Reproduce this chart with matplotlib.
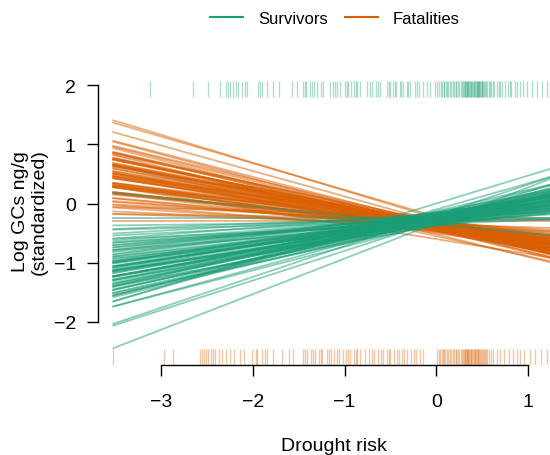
import matplotlib
matplotlib.use("Agg")
import matplotlib.pyplot as plt
import numpy as np
from matplotlib.lines import Line2D

plt.rcParams['font.family'] = ['Liberation Sans', 'DejaVu Sans']

# posterior draws: intercept (at drought risk 0) and slope per line
surv_slope = [0.04, 0.06, 0.07, 0.08, 0.09, 0.10, 0.11, 0.12, 0.12, 0.13,
              0.14, 0.14, 0.15, 0.16, 0.16, 0.17, 0.17, 0.18, 0.18, 0.19,
              0.19, 0.20, 0.20, 0.21, 0.21, 0.22, 0.22, 0.22, 0.23, 0.23,
              0.24, 0.24, 0.24, 0.25, 0.25, 0.25, 0.26, 0.26, 0.26, 0.27,
              0.27, 0.27, 0.28, 0.28, 0.28, 0.29, 0.29, 0.30, 0.30, 0.31,
              0.31, 0.32, 0.32, 0.33, 0.33, 0.34, 0.34, 0.35, 0.36, 0.36,
              0.37, 0.38, 0.39, 0.40, 0.42, 0.44, 0.47, 0.50, 0.52, 0.60,
              -0.15, 0.00, 0.02, 0.11, 0.15, 0.19, 0.23, 0.27, 0.30, 0.35]
surv_icpt = [-0.30, -0.22, -0.35, -0.26, -0.19, -0.31, -0.24, -0.28, -0.17, -0.33,
             -0.25, -0.21, -0.29, -0.36, -0.23, -0.18, -0.30, -0.26, -0.34, -0.20,
             -0.27, -0.15, -0.31, -0.24, -0.38, -0.22, -0.28, -0.19, -0.33, -0.25,
             -0.16, -0.29, -0.23, -0.35, -0.20, -0.27, -0.31, -0.18, -0.26, -0.22,
             -0.34, -0.28, -0.14, -0.24, -0.30, -0.21, -0.37, -0.25, -0.19, -0.32,
             -0.27, -0.23, -0.16, -0.29, -0.35, -0.20, -0.26, -0.31, -0.13, -0.24,
             -0.28, -0.22, -0.18, -0.33, -0.26, -0.10, 0.00, -0.30, -0.20, -0.33,
             -0.35, -0.24, -0.30, -0.27, -0.21, -0.32, -0.25, -0.19, -0.28, -0.23]

fat_slope = [-0.07, -0.09, -0.10, -0.11, -0.12, -0.13, -0.14, -0.15, -0.15, -0.16,
             -0.17, -0.17, -0.18, -0.18, -0.19, -0.19, -0.20, -0.20, -0.21, -0.21,
             -0.22, -0.22, -0.23, -0.23, -0.24, -0.24, -0.25, -0.25, -0.26, -0.26,
             -0.27, -0.27, -0.28, -0.28, -0.29, -0.29, -0.30, -0.30, -0.31, -0.31,
             -0.32, -0.32, -0.33, -0.33, -0.34, -0.35, -0.35, -0.36, -0.37, -0.38,
             -0.39, -0.40, -0.41, -0.43, -0.45, -0.47, -0.02, -0.04, -0.00, -0.05,
             -0.16, -0.20, -0.24, -0.28, -0.32, -0.36, -0.19, -0.23, -0.27, -0.31,
             -0.12, -0.26, -0.34, -0.21, -0.29, -0.18, -0.25, -0.30, -0.22, -0.38]
fat_icpt = [-0.38, -0.33, -0.42, -0.36, -0.45, -0.31, -0.40, -0.35, -0.44, -0.37,
            -0.30, -0.41, -0.34, -0.47, -0.39, -0.32, -0.43, -0.36, -0.28, -0.40,
            -0.35, -0.46, -0.38, -0.31, -0.42, -0.37, -0.33, -0.44, -0.39, -0.29,
            -0.41, -0.36, -0.48, -0.34, -0.38, -0.43, -0.32, -0.40, -0.35, -0.45,
            -0.37, -0.30, -0.42, -0.39, -0.34, -0.46, -0.36, -0.41, -0.33, -0.38,
            -0.44, -0.35, -0.40, -0.31, -0.22, -0.25, -0.25, -0.20, -0.30, -0.35,
            -0.39, -0.43, -0.34, -0.47, -0.37, -0.41, -0.36, -0.50, -0.33, -0.42,
            -0.38, -0.45, -0.55, -0.40, -0.35, -0.44, -0.60, -0.37, -0.32, -0.52]

# observed drought risk (rugs)
surv_risk = [-3.12, -2.65, -2.49, -2.36, -2.29, -2.27, -2.25, -2.21, -2.18, -2.16,
             -2.12, -2.09, -2.06, -1.94, -1.92, -1.90, -1.84, -1.78, -1.71, -1.57,
             -1.52, -1.45, -1.43, -1.42, -1.38, -1.35, -1.33, -1.30, -1.26, -1.23,
             -1.16, -1.12, -1.10, -1.08, -1.05, -0.99, -0.97, -0.96, -0.93, -0.90,
             -0.88, -0.86, -0.83, -0.75, -0.72, -0.70, -0.66, -0.64, -0.61, -0.54,
             -0.52, -0.50, -0.47, -0.45, -0.44, -0.40, -0.38, -0.36, -0.32, -0.31,
             -0.29, -0.23, -0.21, -0.19, -0.14, -0.10, -0.07, -0.01, 0.01, 0.03,
             0.05, 0.06, 0.08, 0.09, 0.11, 0.12, 0.13, 0.15, 0.16, 0.18,
             0.19, 0.21, 0.22, 0.24, 0.25, 0.27, 0.28, 0.29, 0.30, 0.31,
             0.31, 0.32, 0.33, 0.34, 0.35, 0.35, 0.36, 0.37, 0.38, 0.38,
             0.39, 0.40, 0.41, 0.41, 0.42, 0.43, 0.44, 0.44, 0.45, 0.46,
             0.47, 0.47, 0.48, 0.49, 0.50, 0.50, 0.51, 0.52, 0.53, 0.54,
             0.55, 0.57, 0.59, 0.60, 0.62, 0.63, 0.66, 0.68, 0.70, 0.72,
             0.75, 0.78, 0.80, 0.82, 0.86, 0.88, 0.91, 0.95, 0.99, 1.04,
             1.10, 1.15, 1.21]
fat_risk = [-3.52, -2.97, -2.87, -2.57, -2.55, -2.53, -2.51, -2.49, -2.45, -2.43,
            -2.41, -2.37, -2.33, -2.29, -2.25, -2.20, -2.14, -2.10, -2.01, -1.97,
            -1.95, -1.90, -1.87, -1.85, -1.78, -1.68, -1.60, -1.56, -1.45, -1.43,
            -1.41, -1.37, -1.34, -1.32, -1.28, -1.26, -1.24, -1.19, -1.17, -1.15,
            -1.11, -1.08, -1.06, -1.02, -0.98, -0.96, -0.94, -0.90, -0.88, -0.86,
            -0.83, -0.78, -0.73, -0.70, -0.68, -0.63, -0.60, -0.58, -0.54, -0.52,
            -0.50, -0.46, -0.43, -0.41, -0.37, -0.35, -0.32, -0.27, -0.24, -0.22,
            -0.18, -0.14, 0.01, 0.03, 0.04, 0.06, 0.07, 0.09, 0.10, 0.12,
            0.13, 0.15, 0.16, 0.18, 0.19, 0.21, 0.22, 0.24, 0.25, 0.27,
            0.28, 0.29, 0.30, 0.31, 0.31, 0.32, 0.33, 0.34, 0.35, 0.35,
            0.36, 0.37, 0.38, 0.38, 0.39, 0.40, 0.41, 0.42, 0.42, 0.43,
            0.44, 0.45, 0.46, 0.47, 0.48, 0.49, 0.50, 0.51, 0.52, 0.53,
            0.54, 0.55, 0.58, 0.60, 0.62, 0.66, 0.70, 0.74, 0.79, 0.84,
            0.88, 0.91, 0.96, 1.02, 1.08, 1.14, 1.21]

green = '#1b9e77'
orange = '#d95f02'

fig = plt.figure(figsize=(5.5, 4.56), dpi=100)
ax = fig.add_axes([98 / 550, 1 - 366 / 456, 1 - 98 / 550, (366 - 75) / 456])

xs = np.array([-3.53, 1.4])
for a, b in zip(fat_icpt, fat_slope):
    ax.plot(xs, a + b * xs, color=orange, alpha=0.5, lw=1.3, solid_capstyle='butt')
for a, b in zip(surv_icpt, surv_slope):
    ax.plot(xs, a + b * xs, color=green, alpha=0.5, lw=1.3, solid_capstyle='butt')

ax.vlines(surv_risk, 1.803, 2.062, color=green, alpha=0.35, lw=1)
ax.vlines(fat_risk, -2.72, -2.456, color=orange, alpha=0.35, lw=1)

ax.set_xlim(-3.687, 1.240)
ax.set_ylim(-2.726, 2.186)

for s in ['top', 'right']:
    ax.spines[s].set_visible(False)
ax.spines['left'].set_bounds(-2, 2)
ax.spines['bottom'].set_bounds(-3, 1)
ax.spines['left'].set_linewidth(1.0)
ax.spines['bottom'].set_linewidth(1.0)
ax.set_xticks([-3, -2, -1, 0, 1])
ax.set_yticks([-2, -1, 0, 1, 2])
ax.set_xticklabels(['\u22123', '\u22122', '\u22121', '0', '1'])
ax.set_yticklabels(['\u22122', '\u22121', '0', '1', '2'])
ax.tick_params(length=8, width=1.0, labelsize=14)
ax.tick_params(axis='x', pad=12)
ax.tick_params(axis='y', pad=8)

fig.text(334 / 550, 1 - 447 / 456, 'Drought risk', ha='center', va='center', fontsize=14)
fig.text(30 / 550, 1 - 212 / 456, 'Log GCs ng/g\n(standardized)', ha='center', va='center',
         rotation=90, fontsize=14, linespacing=1.15)

handles = [Line2D([], [], color=green, lw=1.5), Line2D([], [], color=orange, lw=1.5)]
fig.legend(handles, ['Survivors', 'Fatalities'], loc='center', bbox_to_anchor=(335 / 550, 1 - 19 / 456),
           ncol=2, frameon=False, fontsize=12, handlelength=2.0, handletextpad=0.9,
           columnspacing=1.0)

fig.savefig('out.png', dpi=100)
